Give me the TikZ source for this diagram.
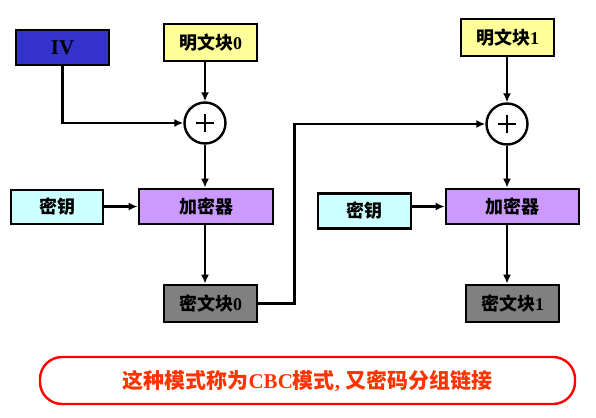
\documentclass[tikz,border=0pt]{standalone}
\usepackage{fontspec}
\setmainfont{Liberation Serif}
\newfontfamily\cjk{Noto Sans CJK SC}
\usetikzlibrary{arrows.meta,calc}
\definecolor{ivblue}{RGB}{51,51,204}
\definecolor{ptyellow}{RGB}{255,255,153}
\definecolor{encpurple}{RGB}{204,153,255}
\definecolor{keycyan}{RGB}{204,255,255}
\definecolor{ctgray}{RGB}{128,128,128}
\definecolor{notered}{RGB}{255,51,0}
\tikzset{
  blk/.style={draw=black,line width=2.8pt,inner sep=0pt,minimum width=93pt,minimum height=36pt,font=\fontsize{18}{18}\selectfont},
  xorc/.style={draw=black,line width=2.4pt,circle,minimum size=41pt,inner sep=0pt},
  conn/.style={line width=2.4pt,-{Latex[length=9pt,width=8pt]}},
}
\newcommand{\zh}[1]{{\cjk\bfseries #1}}
\begin{document}
\begin{tikzpicture}[x=1pt,y=-1pt]
\useasboundingbox (0,0) rectangle (596,417);
\node[blk,fill=ivblue,minimum height=35pt,font=\fontsize{21}{21}\selectfont] (iv) at (62.5,47.5) {\textbf{IV}};
\node[blk,fill=ptyellow,minimum height=37pt] (p0) at (210.5,42.5) {\zh{明文块}\textbf{0}};
\node[xorc] (x0) at (205,123) {};
\node[blk,fill=keycyan,minimum width=92pt,minimum height=34pt] (k0) at (57,207) {\zh{密钥}};
\node[blk,fill=encpurple,minimum width=134pt,minimum height=35pt] (e0) at (206,206.5) {\zh{加密器}};
\node[blk,fill=ctgray,minimum height=37pt] (c0) at (210.5,303.5) {\zh{密文块}\textbf{0}};
\node[blk,fill=ptyellow,minimum height=37pt] (p1) at (507.5,37.5) {\zh{明文块}\textbf{1}};
\node[xorc] (x1) at (507,124) {};
\node[blk,fill=keycyan,minimum height=35pt] (k1) at (364.5,211) {\zh{密钥}};
\node[blk,fill=encpurple,minimum width=133pt,minimum height=35pt] (e1) at (512.5,206.5) {\zh{加密器}};
\node[blk,fill=ctgray,minimum height=37pt] (c1) at (512.5,303.5) {\zh{密文块}\textbf{1}};
% plus signs
\foreach \c in {x0,x1}{
  \draw[line width=1.4pt] ($(\c)+(-9,0)$) -- ($(\c)+(9,0)$);
  \draw[line width=1.4pt] ($(\c)+(0,-9)$) -- ($(\c)+(0,9)$);
}
% connectors left
\draw[conn] (iv.south) |- (x0.west);
\draw[conn] (p0.south -| x0.north) -- (x0.north);
\draw[conn] (x0.south) -- (x0.south |- e0.north);
\draw[conn] (k0.east |- e0.west) -- (e0.west);
\draw[conn] (x0.south |- e0.south) -- (x0.south |- c0.north);
% chaining
\coordinate (bend) at (294.5,123);
\draw[conn] (c0.east) -| (bend) |- (x1.west);
% connectors right
\draw[conn] (p1.south -| x1.north) -- (x1.north);
\draw[conn] (x1.south) -- (x1.south |- e1.north);
\draw[conn] (k1.east |- e1.west) -- (e1.west);
\draw[conn] (x1.south |- e1.south) -- (x1.south |- c1.north);
% note
\node[draw=red,line width=2.4pt,rounded corners=22pt,minimum width=535pt,minimum height=47pt,inner sep=0pt,text=notered,font=\fontsize{21}{21}\selectfont] (note) at (307.5,380.5) {\zh{这种模式称为}\textbf{CBC}\zh{模式}\textbf{,} \zh{又密码分组链接}};
\end{tikzpicture}
\end{document}
